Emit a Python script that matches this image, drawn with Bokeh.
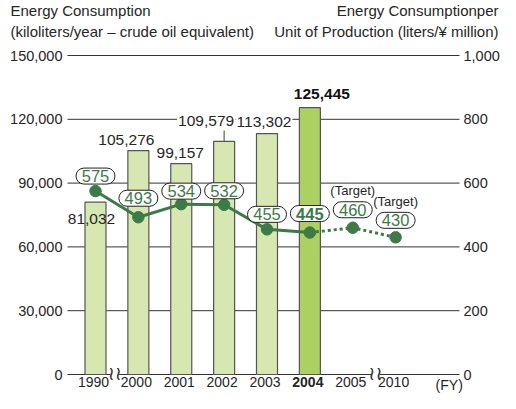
from bokeh.plotting import figure
from bokeh.models import Range1d, Label
from bokeh.embed import file_html
from bokeh.resources import INLINE
from bokeh.core.properties import value

# ---------------- data ----------------
years = ["1990", "2000", "2001", "2002", "2003", "2004", "2005", "2010"]
fy_label = "(FY)"
energy = [81032, 105276, 99157, 109579, 113302, 125445]          # kl/year (bars)
intensity = [575, 493, 534, 532, 455, 445, 460, 430]              # liters / ¥ million
target_label = "(Target)"
n_actual = 6                                                       # 1990-2004 actual, 2005/2010 targets
highlight_year = "2004"
left_ticks = [0, 30000, 60000, 90000, 120000, 150000]
right_ticks = [0, 200, 400, 600, 800, 1000]
left_title = ["Energy Consumption", "(kiloliters/year – crude oil equivalent)"]
right_title = ["Energy Consumptionper", "Unit of Production (liters/¥ million)"]

# ---------------- style ----------------
FONT = "Liberation Sans"
TXT = "#262626"
GREEN = "#3c7a48"
BAR = "#d6e7b2"
BAR_HI = "#acd162"
W, H = 500, 393
B_LEFT, B_RIGHT = 67, 41            # px outside plot area, left / right
TOP_PX, BOT_PX = 55, 19             # px above top tick / below zero
PLOT_W = W - B_LEFT - B_RIGHT
PLOT_L, PLOT_R = -0.653, len(years) + 0.49
XPX = (PLOT_R - PLOT_L) / PLOT_W    # x units per px
PX = left_ticks[-1] / (H - TOP_PX - BOT_PX)   # y units per px
ratio = left_ticks[-1] / right_ticks[-1]
PXR = PX / ratio
y_start = -BOT_PX * PX
y_end = left_ticks[-1] + TOP_PX * PX

xs = list(range(len(years)))

p = figure(width=W, height=H, output_backend="svg", toolbar_location=None,
           x_range=Range1d(PLOT_L - B_LEFT * XPX, PLOT_R + B_RIGHT * XPX),
           y_range=Range1d(y_start, y_end),
           x_axis_location=None, y_axis_location=None,
           min_border_left=0, min_border_right=0, min_border_top=0, min_border_bottom=0)
p.outline_line_color = None
p.grid.visible = False
p.background_fill_color = "white"
p.extra_y_ranges = {"r": Range1d(y_start / ratio, y_end / ratio)}

# grid lines across the plot area
p.segment(x0=[PLOT_L] * len(left_ticks), x1=[PLOT_R] * len(left_ticks),
          y0=left_ticks, y1=left_ticks, line_color="#333333", line_width=1)

# tick labels (left and right scales)
p.text(x=[PLOT_L] * len(left_ticks), y=left_ticks, text=[f"{t:,}" for t in left_ticks],
       x_offset=-5, text_align="right", text_baseline="middle", text_font=value(FONT),
       text_font_size="14.5px", text_color=TXT)
p.text(x=[PLOT_R] * len(right_ticks), y=right_ticks, y_range_name="r",
       text=[f"{t:,}" for t in right_ticks], x_offset=4, text_align="left",
       text_baseline="middle", text_font=value(FONT), text_font_size="14.5px", text_color=TXT)

# titles
p.text(x=[PLOT_L] * 2, y=[y_end] * 2, text=left_title, x_offset=-57, y_offset=[10, 31],
       text_align="left", text_baseline="middle", text_font=value(FONT),
       text_font_size="15px", text_color=TXT)
p.text(x=[PLOT_R] * 2, y=[y_end] * 2, text=right_title, x_offset=39, y_offset=[10, 31],
       text_align="right", text_baseline="middle", text_font=value(FONT),
       text_font_size="15px", text_color=TXT)

# bars
bar_colors = [BAR_HI if y == highlight_year else BAR for y in years[:n_actual]]
p.vbar(x=xs[:n_actual], top=energy, width=0.49, fill_color=bar_colors,
       line_color="#555555", line_width=1.2)

# leader line for 2002 label
i2002 = years.index("2002")
p.segment(x0=[xs[i2002]], y0=[energy[i2002]], x1=[xs[i2002]], y1=[energy[i2002] + 11 * PX],
          line_color="#444444", line_width=1)

# line series
p.line(xs[:n_actual], intensity[:n_actual], y_range_name="r", line_color=GREEN, line_width=3)
p.line(xs[n_actual - 1:], intensity[n_actual - 1:], y_range_name="r", line_color=GREEN,
       line_width=3, line_dash="3 3")
p.scatter(xs, intensity, y_range_name="r", size=11.5, fill_color=GREEN, line_color=GREEN)

# break marks on the baseline
brk_x = [(xs[0] + xs[1]) / 2 - 0.05, (xs[6] + xs[7]) / 2 + 0.03]
p.rect(x=brk_x, y=[0, 0], width=9, height=5, width_units="screen", height_units="screen",
       fill_color="white", line_color=None)
p.text(x=brk_x, y=[0, 0], text=["≀≀", "≀≀"], text_align="center", text_baseline="middle",
       y_offset=-2, text_font=value("DejaVu Sans"), text_font_size="19px",
       text_color="#333333")

# year labels
p.text(x=xs, y=[0] * len(xs), text=years, text_align="center", text_baseline="top",
       x_offset=-2, y_offset=2, text_font=value(FONT), text_font_size="14px",
       text_color=TXT,
       text_font_style=["bold" if y == highlight_year else "normal" for y in years])
p.text(x=[len(years) + 0.25], y=[0], text=[fy_label], text_align="center", text_baseline="top",
       y_offset=2, text_font=value(FONT), text_font_size="14px", text_color=TXT)

# value labels on bars
val_dx = [-4, -12, -1, -18, -3, 12]
val_dy = [-17, 10.5, 11, 20, 11.5, 13.5]
for i, v in enumerate(energy):
    hi = years[i] == highlight_year
    p.add_layout(Label(x=xs[i], y=v, x_offset=val_dx[i], y_offset=val_dy[i], text=f"{v:,}",
                       text_align="center", text_baseline="middle", text_font=FONT,
                       text_font_size="15.5px", text_color="#111111" if hi else TXT,
                       text_font_style="bold" if hi else "normal",
                       background_fill_color=None if i == 0 else "white", padding=1))

# bubble labels on line
bub_dy = [15, 19, 13, 14, 15, 19, 18, 17]
BW, BH = 19.5, 8
bl = [x - BW * XPX for x in xs]
br = [x + BW * XPX for x in xs]
bb = [v + (d - BH) * PXR for v, d in zip(intensity, bub_dy)]
bt = [v + (d + BH) * PXR for v, d in zip(intensity, bub_dy)]
p.quad(left=bl, right=br, bottom=bb, top=bt, y_range_name="r", fill_color="white",
       line_color="#222222", line_width=1, border_radius=8)
p.text(x=xs, y=intensity, y_range_name="r", y_offset=[-d for d in bub_dy],
       text=[str(v) for v in intensity], text_align="center", text_baseline="middle",
       text_font=value(FONT), text_font_size="16.5px", text_color=GREEN,
       text_font_style=["bold" if y == highlight_year else "normal" for y in years])
p.text(x=xs[n_actual:], y=intensity[n_actual:], y_range_name="r",
       y_offset=[-(d + 19) for d in bub_dy[n_actual:]],
       text=[target_label] * (len(years) - n_actual), text_align="center",
       text_baseline="middle", text_font=value(FONT), text_font_size="13px", text_color=TXT)

open("out.html", "w").write(file_html(p, INLINE))
